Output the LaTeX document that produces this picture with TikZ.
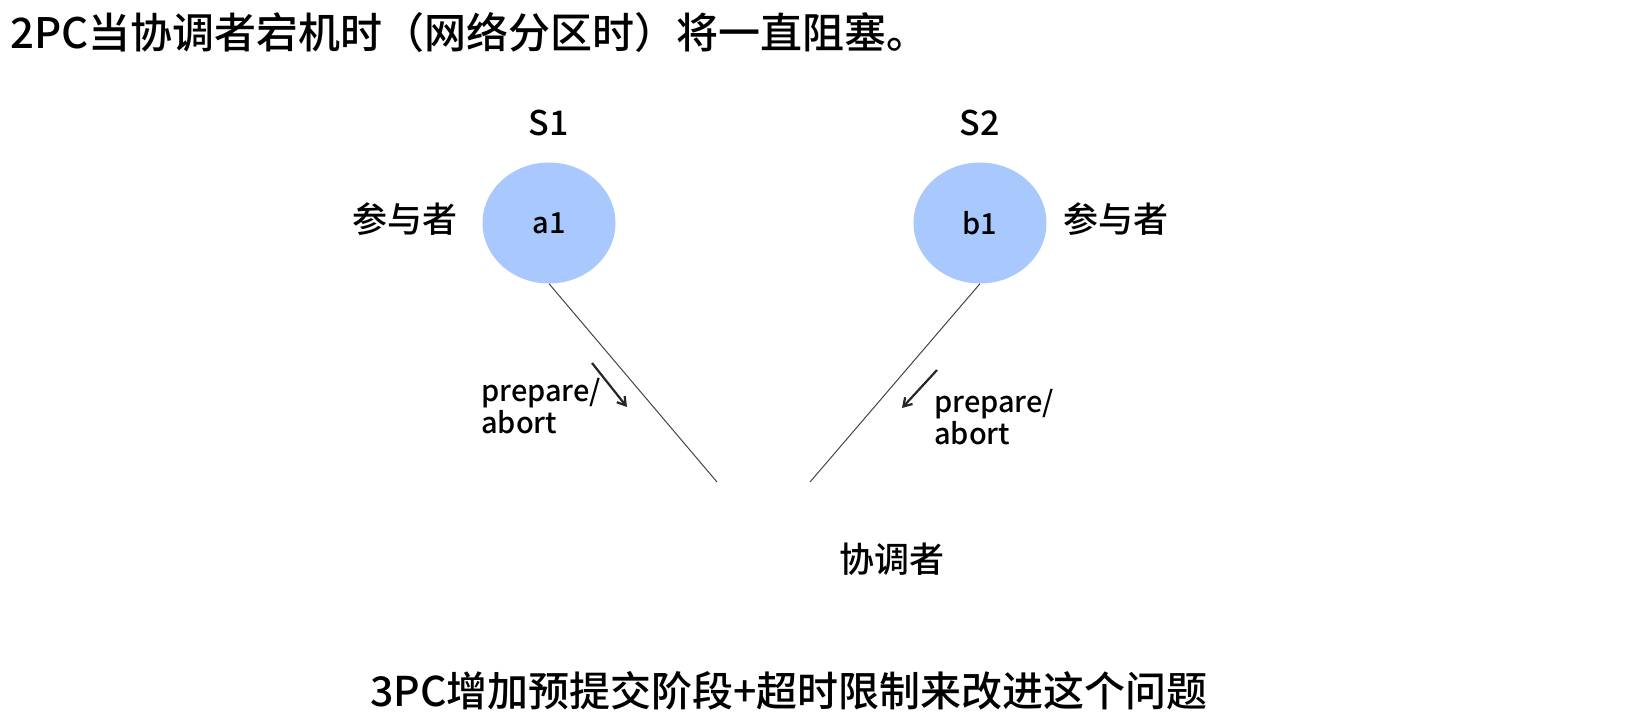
\documentclass[tikz,border=0pt]{standalone}
\usepackage{fontspec}
\setmainfont{Noto Sans CJK SC}[UprightFont={* Medium}]
\usetikzlibrary{arrows.meta,shapes.geometric}
\definecolor{nodeblue}{HTML}{A9C8FE}
\definecolor{linegray}{HTML}{444444}
\tikzset{
  heading/.style={inner sep=0pt, font=\fontsize{42}{49}\selectfont},
  footing/.style={inner sep=0pt, font=\fontsize{41}{52}\selectfont},
  site/.style={inner sep=0pt, font=\fontsize{34}{40}\selectfont},
  part/.style={ellipse, fill=nodeblue, minimum width=133pt, minimum height=121pt, inner sep=0pt, font=\fontsize{29}{34}\selectfont},
  role/.style={inner sep=0pt, font=\fontsize{35}{42}\selectfont},
  msg/.style={inner sep=0pt, align=left, font=\fontsize{29}{32}\selectfont},
  link/.style={draw=linegray, line width=1pt},
  msgarrow/.style={-{Straight Barb[length=8pt,width=10pt]}, line width=2.2pt, draw=black!85}
}
\begin{document}
\begin{tikzpicture}[x=1pt, y=-1pt]
\useasboundingbox (0,0) rectangle (1650,718);
\node[heading, anchor=base west] (ttl) at (10,48) {2PC当协调者宕机时（网络分区时）将一直阻塞。};
\node[part] (a1) at (549,223) {a1};
\node[part] (b1) at (980,223) {b1};
\node[site, anchor=base] (s1) at (549,135) {S1};
\node[site, anchor=base] (s2) at (980,135) {S2};
\node[role, anchor=base] (pa) at (405,232) {参与者};
\node[role, anchor=base] (pb) at (1116,232) {参与者};
\node[role, anchor=base] (co) at (892,572) {协调者};
\coordinate (ca) at (717,482);
\coordinate (cb) at (810,482);
\draw[link] (a1.south) -- (ca);
\draw[link] (b1.south) -- (cb);
\coordinate (la0) at (592,363);
\coordinate (la1) at (627,407);
\coordinate (lb0) at (937,370);
\coordinate (lb1) at (902,408);
\draw[msgarrow] (la0) -- (la1);
\draw[msgarrow] (lb0) -- (lb1);
\node[msg, anchor=north west] (ma) at (481,378) {prepare/\\abort};
\node[msg, anchor=north west] (mb) at (934,389) {prepare/\\abort};
\node[footing, anchor=base] (ftr) at (789,706) {3PC增加预提交阶段+超时限制来改进这个问题};
\end{tikzpicture}
\end{document}
